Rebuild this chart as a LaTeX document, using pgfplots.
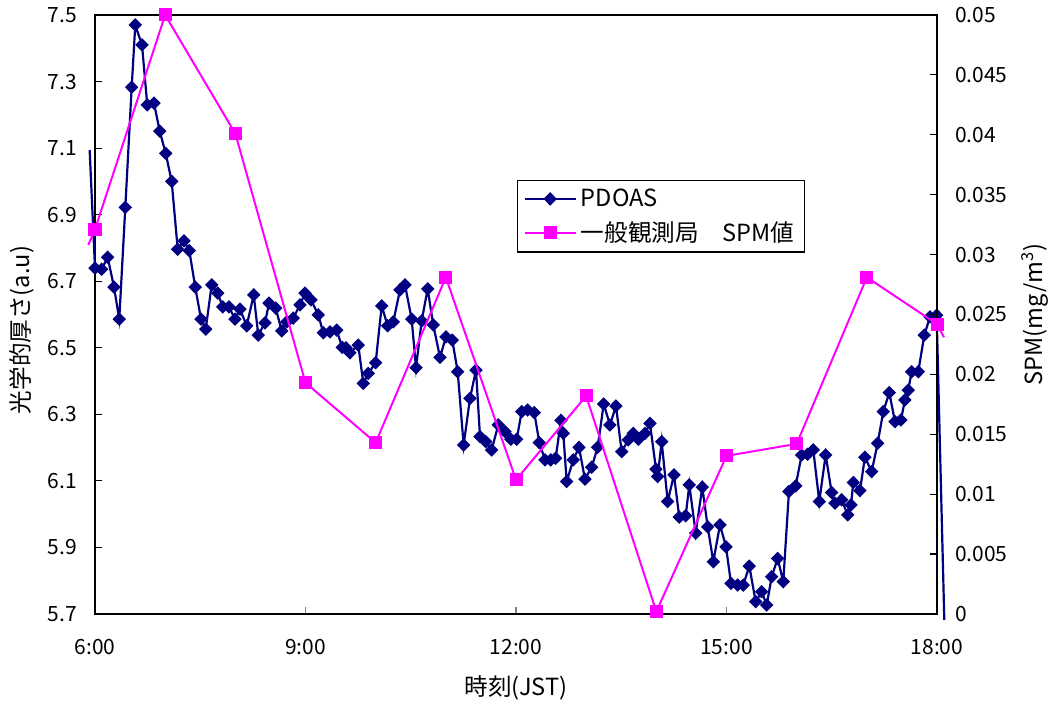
\documentclass[border=0pt]{standalone}
\usepackage{fontspec}
\setmainfont{Noto Sans CJK JP}
\usepackage{pgfplots}
\pgfplotsset{compat=1.18}
\definecolor{navyc}{RGB}{0,0,128}
\definecolor{magc}{RGB}{255,0,255}

\pgfplotstableread{
t v
6.000 6.739
6.095 6.736
6.181 6.772
6.271 6.682
6.346 6.586
6.432 6.922
6.523 7.283
6.574 7.470
6.670 7.410
6.745 7.230
6.841 7.235
6.922 7.151
7.008 7.084
7.093 7.000
7.179 6.796
7.268 6.821
7.344 6.792
7.429 6.682
7.511 6.586
7.578 6.556
7.663 6.689
7.749 6.664
7.820 6.623
7.910 6.623
7.995 6.586
8.066 6.616
8.162 6.566
8.262 6.659
8.327 6.538
8.423 6.575
8.480 6.634
8.575 6.619
8.661 6.551
8.732 6.578
8.826 6.589
8.921 6.629
8.993 6.664
9.078 6.644
9.182 6.599
9.254 6.545
9.349 6.548
9.444 6.553
9.524 6.501
9.577 6.500
9.634 6.485
9.752 6.508
9.824 6.393
9.895 6.423
10.000 6.455
10.086 6.626
10.171 6.566
10.251 6.578
10.347 6.674
10.418 6.689
10.513 6.586
10.575 6.440
10.656 6.581
10.741 6.677
10.821 6.569
10.917 6.471
11.002 6.533
11.092 6.523
11.169 6.428
11.254 6.208
11.344 6.348
11.430 6.433
11.487 6.233
11.568 6.218
11.653 6.193
11.747 6.268
11.843 6.248
11.928 6.225
12.010 6.225
12.081 6.308
12.166 6.313
12.261 6.305
12.332 6.215
12.413 6.163
12.494 6.163
12.565 6.168
12.641 6.282
12.674 6.243
12.722 6.098
12.816 6.163
12.898 6.201
12.983 6.105
13.078 6.141
13.164 6.201
13.250 6.331
13.339 6.268
13.425 6.325
13.506 6.188
13.600 6.223
13.671 6.243
13.743 6.225
13.838 6.243
13.909 6.273
13.995 6.135
14.019 6.113
14.076 6.218
14.162 6.038
14.251 6.118
14.327 5.991
14.418 5.995
14.470 6.088
14.561 5.943
14.655 6.081
14.732 5.962
14.812 5.857
14.907 5.968
14.993 5.902
15.064 5.792
15.159 5.787
15.239 5.787
15.325 5.844
15.416 5.737
15.501 5.767
15.573 5.727
15.644 5.812
15.729 5.867
15.809 5.797
15.890 6.068
15.986 6.085
16.071 6.178
16.157 6.180
16.237 6.193
16.322 6.038
16.413 6.178
16.499 6.065
16.546 6.033
16.641 6.043
16.727 5.998
16.774 6.028
16.807 6.095
16.902 6.071
16.973 6.171
17.069 6.128
17.154 6.213
17.234 6.308
17.320 6.365
17.401 6.278
17.486 6.283
17.543 6.343
17.590 6.373
17.639 6.428
17.733 6.428
17.819 6.538
17.900 6.593
17.995 6.598
}\pdoas

\pgfplotstableread{
t v
6 0.0321
7 0.0500
8 0.0401
9 0.0193
10 0.0143
11 0.0281
12 0.0112
13 0.0182
14 0.0002
15 0.0132
16 0.0142
17 0.0281
18 0.0242
}\spm

\begin{document}
\begin{tikzpicture}[font=\fontsize{10.5}{12}\selectfont]
\useasboundingbox (-47.5pt,-45pt) rectangle (477pt,307pt);
\pgfplotsset{
  common/.style={
    scale only axis, width=421pt, height=299.5pt,
    at={(0,0)}, anchor=south west,
    xmin=6, xmax=18, clip=false,
    tick align=inside, major tick length=3.5pt,
    /pgf/number format/assume math mode=true,
    tick label style={font=\fontsize{10.5}{12}\selectfont},
    label style={font=\fontsize{11.8}{13}\selectfont},
    axis line style={black, line width=0.6pt},
  },
  legend image code/.code={\draw[mark repeat=2,mark phase=2,#1] plot coordinates {(0cm,0cm) (0.45cm,0cm) (0.9cm,0cm)};},
}
\begin{axis}[common,
  ymin=5.7, ymax=7.5,
  xtick={6,9,12,15,18}, xticklabels={6:00,9:00,12:00,15:00,18:00},
  xtick pos=bottom, ytick pos=left,
  ytick={5.7,5.9,6.1,6.3,6.5,6.7,6.9,7.1,7.3,7.5},
  yticklabels={5.7,5.9,6.1,6.3,6.5,6.7,6.9,7.1,7.3,7.5},
  xticklabel style={yshift=-9pt},
  yticklabel style={xshift=-5.5pt},
  x tick style={gray, line width=0.6pt}, y tick style={black, line width=0.6pt},
  xlabel={時刻(JST)}, ylabel={光学的厚さ(a.u)},
  xlabel style={at={(axis description cs:0.5,-0.1235)}, anchor=center},
  ylabel style={at={(axis description cs:-0.0867,0.474)}, anchor=center},
]
\addplot[navyc, line width=1.1pt] coordinates {(5.924,7.094) (6.000,6.739)};
\addplot[navyc, line width=1.1pt] coordinates {(17.995,6.598) (18.104,5.682)};
\addplot[navyc, line width=1.1pt, mark=diamond*, mark size=2.6pt,
  mark options={solid, fill=navyc, xscale=1.33}] table[x=t,y=v] {\pdoas};
\end{axis}
\begin{axis}[common,
  ymin=0, ymax=0.05,
  axis x line=none, axis y line*=right, xtick=\empty,
  ytick={0,0.005,0.01,0.015,0.02,0.025,0.03,0.035,0.04,0.045,0.05},
  yticklabels={0,0.005,0.01,0.015,0.02,0.025,0.03,0.035,0.04,0.045,0.05},
  yticklabel style={xshift=5.5pt},
  y tick style={black, line width=0.6pt},
  ylabel={SPM(mg/m\textsuperscript{3})},
  ylabel style={at={(axis description cs:1.1164,0.5)}, anchor=center},
  legend style={at={(0.501,0.7245)}, anchor=north west, draw=black, line width=0.6pt,
    fill=white, inner xsep=3pt, inner ysep=2pt, row sep=2pt,
    font=\fontsize{11.8}{13}\selectfont},
  legend cell align=left,
]
\addlegendimage{navyc, line width=1.1pt, mark=diamond*, mark size=2.6pt, mark options={solid, fill=navyc, xscale=1.33}}
\addlegendentry{PDOAS}
\addplot[magc, line width=1pt, forget plot] coordinates {(5.905,0.0308) (6,0.0321)};
\addplot[magc, line width=1pt, forget plot] coordinates {(18,0.0242) (18.1,0.0231)};
\addplot[magc, line width=1pt, mark=square*, mark size=2.75pt,
  mark options={solid, fill=magc}] table[x=t,y=v] {\spm};
\addlegendentry{一般観測局　SPM値}
\end{axis}
\end{tikzpicture}
\end{document}
